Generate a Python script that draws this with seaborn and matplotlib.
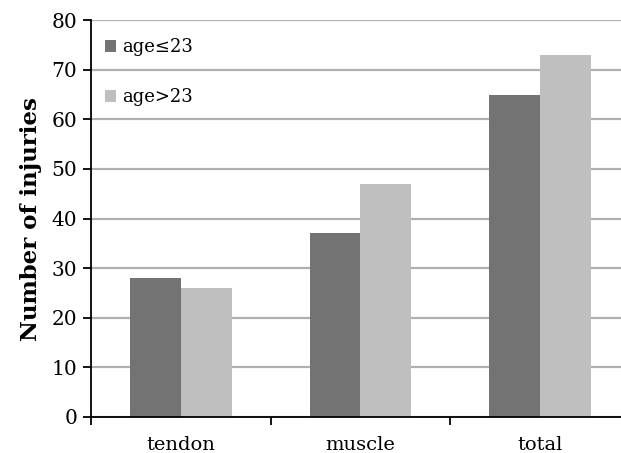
import matplotlib
matplotlib.use("Agg")
import matplotlib.pyplot as plt
import seaborn as sns
import pandas as pd
from matplotlib.ticker import FixedLocator

categories = ["tendon", "muscle", "total"]
groups = ["age≤23", "age>23"]
young = [28, 37, 65]
older = [26, 47, 73]

df = pd.DataFrame({
    "category": categories * 2,
    "group": [groups[0]] * 3 + [groups[1]] * 3,
    "injuries": young + older,
})

sns.set_style("white")
plt.rcParams["font.family"] = ["DejaVu Serif"]
plt.rcParams["text.color"] = "black"
plt.rcParams["axes.labelcolor"] = "black"
plt.rcParams["xtick.color"] = "black"
plt.rcParams["ytick.color"] = "black"

fig = plt.figure(figsize=(6.21, 4.53), dpi=100)
ax = fig.add_axes([0.1465, 0.0795, 0.868, 0.876])

sns.barplot(data=df, x="category", y="injuries", hue="group",
            palette=["#737373", "#bfbfbf"], width=0.567, gap=0,
            saturation=1, ax=ax, legend=True, edgecolor="none", linewidth=0)

ax.set_ylim(0, 80)
ax.set_xlim(-0.5, 2.5)
ax.set_yticks(range(0, 81, 10))
ax.yaxis.grid(True, color="#b0b0b0", linewidth=1.6)
ax.set_axisbelow(True)

for side in ["top", "right"]:
    ax.spines[side].set_visible(False)
for side in ["left", "bottom"]:
    ax.spines[side].set_color("black")
    ax.spines[side].set_linewidth(1.3)

ax.tick_params(axis="y", which="major", left=True, length=6, width=1.3,
               color="black", labelsize=14.5, pad=4)
ax.tick_params(axis="x", which="major", bottom=False, labelsize=14, pad=10)
ax.xaxis.set_minor_locator(FixedLocator([-0.5, 0.5, 1.5]))
ax.tick_params(axis="x", which="minor", bottom=True, length=6, width=1.3,
               color="black")

ax.set_xlabel("")
ax.set_ylabel("Number of injuries", fontsize=16.5, fontweight="bold", labelpad=7)

leg = ax.legend(loc="upper left", bbox_to_anchor=(-0.005, 0.995), frameon=False,
                fontsize=13, handlelength=0.65, handleheight=0.65,
                handletextpad=0.35, labelspacing=1.75)

fig.savefig("out.png", dpi=100)
